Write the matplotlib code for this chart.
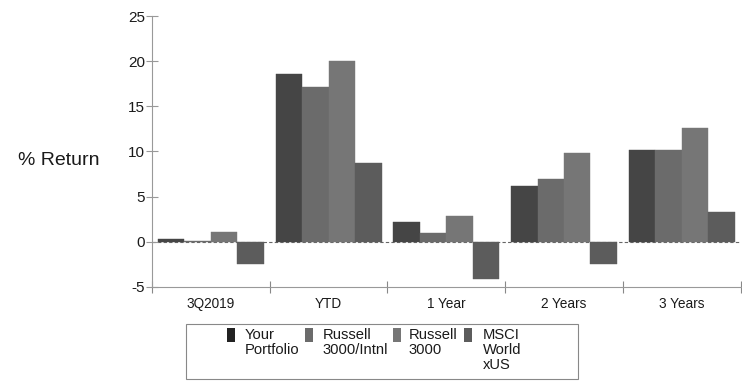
import matplotlib
matplotlib.use("Agg")
import matplotlib.pyplot as plt
import numpy as np
from matplotlib.patches import Rectangle

plt.rcParams['font.family'] = ['Liberation Sans', 'DejaVu Sans']

periods = ["3Q2019", "YTD", "1 Year", "2 Years", "3 Years"]
series_names = ["Your\nPortfolio", "Russell\n3000/Intnl", "Russell\n3000", "MSCI\nWorld\nxUS"]
your_portfolio = [0.3, 18.6, 2.2, 6.2, 10.2]
russell_3000_intl = [0.1, 17.1, 1.0, 6.9, 10.2]
russell_3000 = [1.1, 20.0, 2.8, 9.8, 12.6]
msci_world_xus = [-2.5, 8.7, -4.1, -2.5, 3.3]
y_ticks = [-5, 0, 5, 10, 15, 20, 25]

series = [your_portfolio, russell_3000_intl, russell_3000, msci_world_xus]
colors = ["#454545", "#6b6b6b", "#767676", "#5c5c5c"]
text_color = "#1a1a1a"

fig = plt.figure(figsize=(7.42, 3.81), dpi=100)
ax = fig.add_axes([0.205, 0.247, 0.793, 0.711])

x = np.arange(len(periods))
n = len(series)
bw = 0.225
for i, (vals, c) in enumerate(zip(series, colors)):
    offs = (i - (n - 1) / 2) * bw
    ax.bar(x + offs, vals, width=bw, color=c, edgecolor=c, linewidth=0.3)

# zero reference line
ax.axhline(0, color="#666666", lw=0.8, ls=(0, (3, 2)), zorder=0)

ax.set_xlim(-0.5, len(periods) - 0.5)
ax.set_ylim(-5, 25)
ax.set_yticks(y_ticks)
ax.set_yticklabels([str(t) for t in y_ticks], fontsize=11, color=text_color)

# group dividers as ticks, labels centered in between
ax.set_xticks(np.arange(len(periods) + 1) - 0.5)
ax.set_xticklabels([])
ax.set_xticks(x, minor=True)
ax.set_xticklabels(periods, minor=True, fontsize=9.8, color=text_color)
ax.tick_params(axis="x", which="minor", length=0, pad=7)
ax.tick_params(axis="x", which="major", direction="inout", length=8, color="#888888", width=0.8)
ax.tick_params(axis="y", direction="inout", length=8, color="#999999", width=0.8, pad=1)

for s in ["top", "right"]:
    ax.spines[s].set_visible(False)
ax.spines["left"].set_color("#999999")
ax.spines["bottom"].set_color("#999999")

fig.text(0.024, 0.58, "% Return", fontsize=14, va="center", ha="left", color=text_color)

# legend box
fig.add_artist(Rectangle((0.251, 0.005), 0.528, 0.145, transform=fig.transFigure,
                         facecolor="white", edgecolor="#888888", lw=0.8))
marker_x = [0.306, 0.411, 0.530, 0.625]
text_x = [0.330, 0.435, 0.551, 0.651]
for mx, tx, name, c in zip(marker_x, text_x, series_names, colors):
    fig.add_artist(Rectangle((mx, 0.102), 0.0105, 0.037, transform=fig.transFigure,
                             facecolor="#222222" if c == colors[0] else c, edgecolor="none"))
    fig.text(tx, 0.140, name, fontsize=10.6, va="top", ha="left", linespacing=1.1,
             color=text_color)

fig.savefig("out.png", dpi=100)
